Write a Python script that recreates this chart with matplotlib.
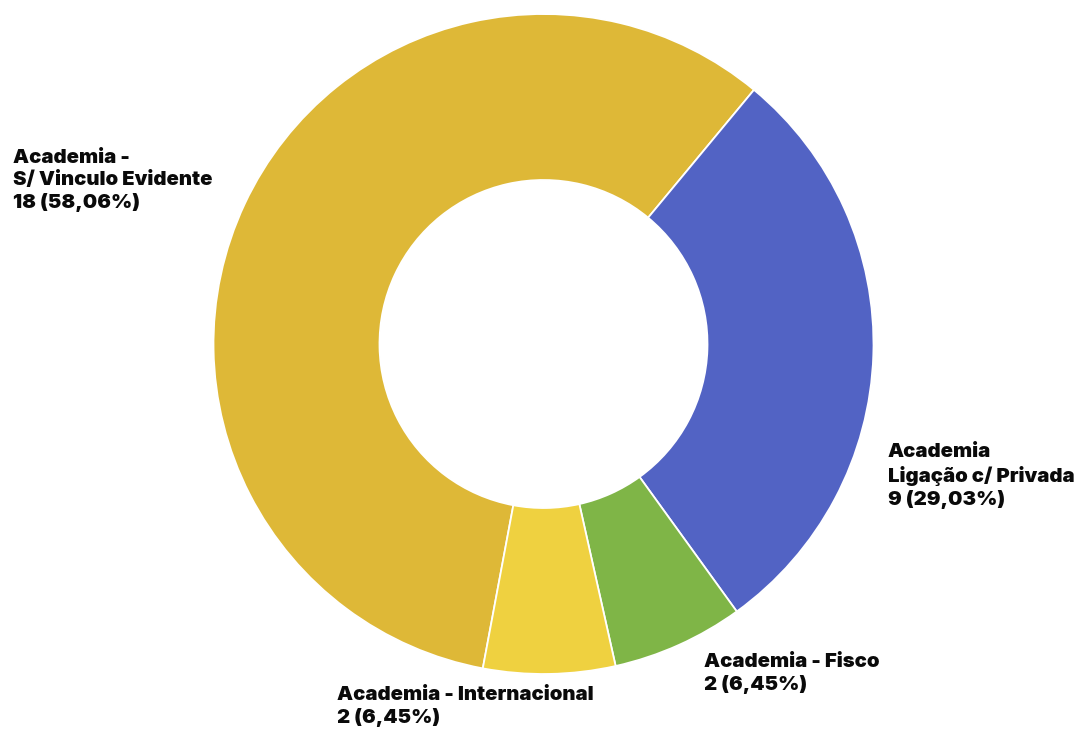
import matplotlib
matplotlib.use("Agg")
import matplotlib.pyplot as plt

# Segment data (clockwise order)
categories = ["Academia -\nS/ Vinculo Evidente",
              "Academia\nLigação c/ Privada",
              "Academia - Fisco",
              "Academia - Internacional"]
values = [18, 9, 2, 2]
colors = ["#DEB837", "#5263C4", "#7FB547", "#EFD140"]

W, H = 1080, 729
fig = plt.figure(figsize=(W / 100, H / 100), dpi=100)
ax = fig.add_axes([0, 0, 1, 1])

cx, cy = 543.5, H - 344
outer_r = 330
inner_r = 164

ax.pie(values, colors=colors, startangle=-100.6, counterclock=False,
       center=(cx, cy), radius=outer_r,
       wedgeprops=dict(width=outer_r - inner_r, edgecolor="white", linewidth=1.3),
       frame=True)
ax.set_xlim(0, W)
ax.set_ylim(0, H)
ax.set_aspect("equal")
ax.axis("off")

total = sum(values)
label_pos = [(13, 149), (888, 443), (704, 653), (337, 686)]
for cat, v, (lx, ly) in zip(categories, values, label_pos):
    pct = f"{100 * v / total:.2f}".replace(".", ",")
    ax.text(lx, H - ly, f"{cat}\n{v} ({pct}%)", ha="left", va="top",
            fontsize=14.6, fontfamily="Inter", fontweight=900,
            color="#0A0A0A", linespacing=1.29)

fig.savefig("out.png", dpi=100)
